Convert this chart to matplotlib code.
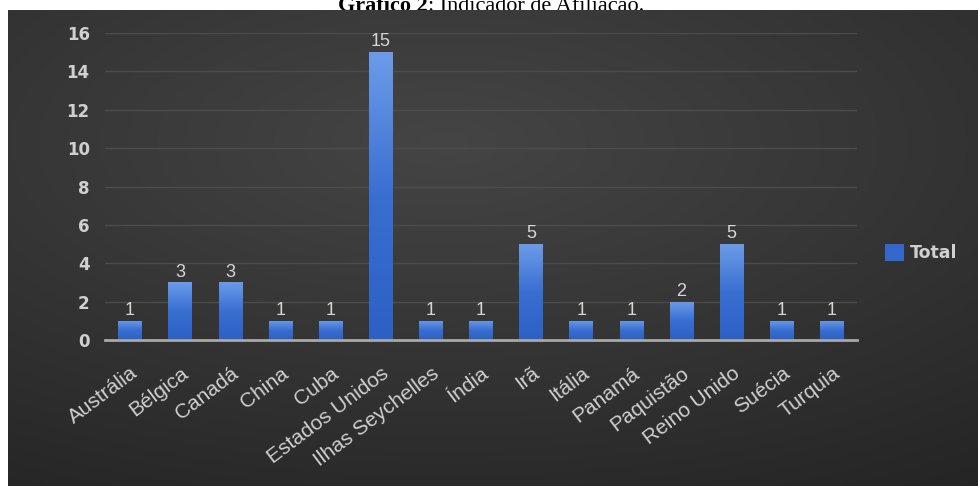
import numpy as np
import matplotlib
matplotlib.use("Agg")
from matplotlib import pyplot as plt
from matplotlib import transforms

paises = ["Austrália", "Bélgica", "Canadá", "China", "Cuba", "Estados Unidos",
          "Ilhas Seychelles", "Índia", "Irã", "Itália", "Panamá", "Paquistão",
          "Reino Unido", "Suécia", "Turquia"]
total = [1, 3, 3, 1, 1, 15, 1, 1, 5, 1, 1, 2, 5, 1, 1]
yticks = [0, 2, 4, 6, 8, 10, 12, 14, 16]

W, H = 979, 486
fig = plt.figure(figsize=(W / 100, H / 100), dpi=100)
fig.patch.set_facecolor("white")

# title, lower part hidden behind the dark chart area
t1 = fig.text(0.0, 0.0, "Gráfico 2", fontsize=16, family="Liberation Serif",
              weight="bold", va="baseline", color="black", zorder=0)
t2 = fig.text(0.0, 0.0, ": Indicador de Afiliação.", fontsize=16,
              family="Liberation Serif", va="baseline", color="black", zorder=0)
fig.canvas.draw()
r1 = t1.get_window_extent()
r2 = t2.get_window_extent()
x0 = (491 - (r1.width + r2.width) / 2) / W
yb = 1 - 11 / H
t1.set_position((x0, yb))
t2.set_position((x0 + r1.width / W, yb))

# dark background with radial gradient
bg = fig.add_axes([8 / W, 0, 1 - 8 / W, (H - 10) / H], zorder=1)
bg.set_axis_off()
yy, xx = np.mgrid[0:1:200j, 0:1:400j]
r = np.sqrt(((xx - 0.45) / 1.0) ** 2 + ((yy - 0.72) / 0.9) ** 2)
val = 0.27 - 0.13 * np.clip(r, 0, 1)
bg.imshow(np.dstack([val, val, val]), aspect="auto", extent=(0, 1, 0, 1),
          origin="lower")

ax = fig.add_axes([105 / W, 1 - 340 / H, (857 - 105) / W, (340 - 33) / H],
                  zorder=2)
ax.set_facecolor("none")
x = np.arange(len(paises))
bars = ax.bar(x, total, width=0.47, color="#3568cc", zorder=3, label="Total")

grad = np.linspace(0, 1, 100).reshape(-1, 1)
cmap = matplotlib.colors.LinearSegmentedColormap.from_list(
    "b", ["#2c60c4", "#3a6fd2", "#6b9be8"])
for b in bars:
    im = ax.imshow(grad, extent=(b.get_x(), b.get_x() + b.get_width(), 0,
                                 b.get_height()),
                   origin="lower", aspect="auto", cmap=cmap, zorder=4)
    im.set_clip_path(b)

for xi, v in zip(x, total):
    ax.text(xi, v + 0.1, str(v), ha="center", va="bottom", color="#d6d6d6",
            fontsize=13, family="Liberation Sans", zorder=5)

ax.set_xlim(-0.5, len(paises) - 0.5)
ax.set_ylim(0, 16)
ax.set_yticks(yticks)
ax.set_yticklabels([str(t) for t in yticks], color="#d0d0d0", fontsize=12,
                   family="DejaVu Sans", weight="bold")
ax.set_xticks(x)
ax.set_xticklabels(paises, rotation=37, ha="right", va="top",
                   rotation_mode="anchor", color="#cfcfcf", fontsize=15,
                   family="Liberation Sans")
shift = transforms.ScaledTranslation(-10 / 100, 0, fig.dpi_scale_trans)
for lab in ax.get_xticklabels():
    lab.set_transform(lab.get_transform() + shift)
ax.tick_params(axis="both", length=0)
ax.tick_params(axis="y", pad=11)
ax.tick_params(axis="x", pad=17)
ax.grid(axis="y", color="#4c4c4c", linewidth=1, zorder=0)
for s in ["top", "right", "left"]:
    ax.spines[s].set_visible(False)
ax.spines["bottom"].set_color("#a8a8a8")
ax.spines["bottom"].set_linewidth(2)
ax.spines["bottom"].set_zorder(6)
ax.set_axisbelow(True)

leg = fig.legend(handles=[bars], labels=["Total"], loc="center left",
                 bbox_to_anchor=(869 / W, 1 - 253 / H), frameon=False,
                 handlelength=1.1, handleheight=1.1, handletextpad=0.35,
                 prop={"family": "DejaVu Sans", "weight": "bold", "size": 12.5})
leg.set_zorder(3)
for txt in leg.get_texts():
    txt.set_color("#d0d0d0")

fig.savefig("out.png", dpi=100)
